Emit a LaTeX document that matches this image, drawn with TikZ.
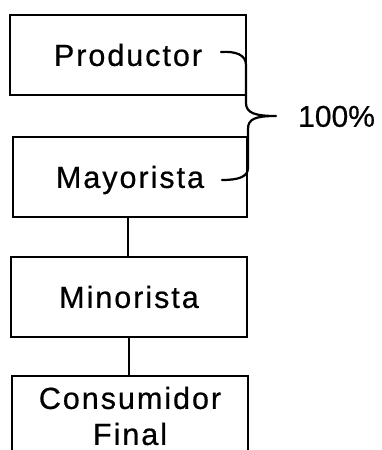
\documentclass[tikz,border=0pt]{standalone}
\usepackage{fontspec}
\setmainfont{Liberation Sans}[FakeBold=0.6]
\newfontfamily\boxfont{Liberation Sans}[LetterSpace=6.5, FakeBold=0.6]
\begin{document}
\begin{tikzpicture}[x=1pt,y=-1pt,
  stagebox/.style={draw=black, line width=2pt, minimum width=236pt, minimum height=80pt,
    inner sep=0pt, align=center, font=\boxfont\fontsize{30.5}{36}\selectfont,
    text height=27.5pt, text depth=5.7pt},
  link/.style={line width=2pt},
  bracepath/.style={line width=2.2pt, line cap=round, line join=round}]
\path[use as bounding box, clip] (0,0) rectangle (382,450);
\fill[white] (0,0) rectangle (382,450);
\node[stagebox] (prod) at (128,55) {Productor};
\node[stagebox, minimum width=234pt] (may) at (130,177) {Mayorista};
\node[stagebox] (min) at (129,297) {Minorista};
\node[stagebox, text height=, text depth=] (cons) at (130,416) {Consumidor\\Final};
\draw[link] (may.south -| 128,0) -- (min.north -| 128,0);
\draw[link] (min.south -| 129,0) -- (cons.north -| 129,0);
\coordinate (btop) at (221,52);
\coordinate (btip) at (276,116);
\coordinate (bbot) at (222,180);
\draw[bracepath] (btop) .. controls (236,51) and (246,55) .. (246,65) -- (246,103)
  .. controls (246,113) and (255,116) .. (btip)
  .. controls (255,116) and (248,119) .. (248,129) -- (248,168)
  .. controls (248,177) and (238,180) .. (bbot);
\node[font=\fontsize{30}{36}\selectfont, anchor=west, inner sep=0pt, text height=27pt, text depth=5.5pt] (pct) at (298,116) {100\%};
\end{tikzpicture}
\end{document}
